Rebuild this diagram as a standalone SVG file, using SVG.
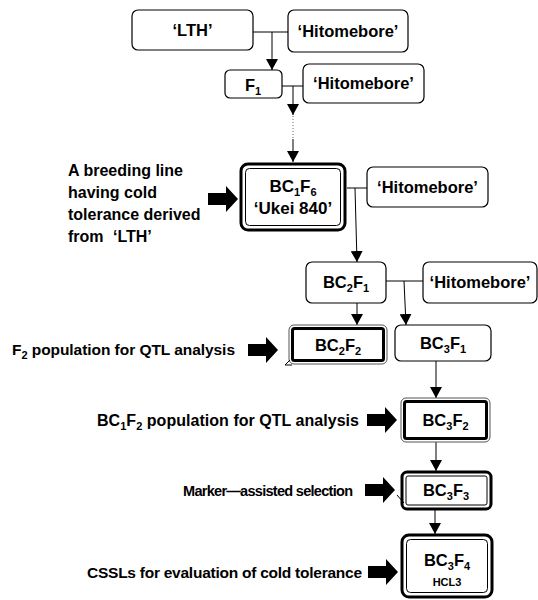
<svg xmlns="http://www.w3.org/2000/svg" xmlns:xlink="http://www.w3.org/1999/xlink" width="538" height="600" viewBox="0 0 538 600">
<style>
text{font-family:"Liberation Sans",Arial,sans-serif;font-weight:bold;fill:#000}
.n{font-size:16.5px;text-anchor:middle}
.l{font-size:15.5px}
.sub{font-size:11px}
.box{fill:#fff;stroke:#000;stroke-width:1.2}
.outer{fill:#fff;stroke:#000;stroke-width:3}
.inner{fill:none;stroke:#000;stroke-width:1}
.thin{fill:#fff;stroke:#555;stroke-width:1}
.thick{fill:none;stroke:#000;stroke-width:3}
.c{fill:none;stroke:#000;stroke-width:1}
.dot{stroke-dasharray:1 2;stroke:#666}
</style>
<defs>
<marker id="ah" markerUnits="userSpaceOnUse" markerWidth="11" markerHeight="12" refX="11" refY="6" orient="auto">
<path d="M0,0 L11,6 L0,12 Z" fill="#000"/>
</marker>
<path id="blk" d="M-30,-6 H-12 V-13 L0,0 L-12,13 V6 H-30 Z" fill="#000"/>
</defs>
<rect width="538" height="600" fill="#fff"/>

<g id="connectors">
<path class="c" d="M253,32 H288"/>
<path class="c" d="M272,32 V70" marker-end="url(#ah)"/>
<path class="c" d="M282,86 H303"/>
<path class="c" d="M293,86 V115" marker-end="url(#ah)"/>
<path class="c dot" d="M293,116 V139"/>
<path class="c" d="M293,139 V162" marker-end="url(#ah)"/>
<path class="c" d="M347,188 H367"/>
<path class="c" d="M355,188 L357,262" marker-end="url(#ah)"/>
<path class="c" d="M386,281 H423"/>
<path class="c" d="M404,281 L406,325" marker-end="url(#ah)"/>
<path class="c" d="M357,303 V325" marker-end="url(#ah)"/>
<path class="c" d="M436,361 V398" marker-end="url(#ah)"/>
<path class="c" d="M436,442 V471" marker-end="url(#ah)"/>
<path class="c" d="M435,509 V534" marker-end="url(#ah)"/>
</g>

<g id="n-lth"><rect class="box" x="132" y="10" width="121" height="40" rx="6"/><text class="n" x="192.5" y="36">‘LTH’</text></g>
<g id="n-hito1"><rect class="box" x="288" y="10" width="120" height="42" rx="6"/><text class="n" x="348" y="37">‘Hitomebore’</text></g>
<g id="n-f1"><rect class="box" x="225" y="70" width="57" height="28" rx="5"/><text class="n" x="253" y="91">F<tspan class="sub" dy="4">1</tspan></text></g>
<g id="n-hito2"><rect class="box" x="303" y="64" width="121" height="39" rx="6"/><text class="n" x="363.5" y="89">‘Hitomebore’</text></g>

<g id="n-bc1f6">
<rect class="outer" x="241" y="164" width="104" height="66" rx="7"/>
<rect class="inner" x="245.5" y="168.5" width="95" height="57" rx="4"/>
<text class="n" x="293" y="192" style="font-size:17px">BC<tspan class="sub" dy="4">1</tspan><tspan dy="-4">F</tspan><tspan class="sub" dy="4">6</tspan></text>
<text class="n" x="293" y="214" style="font-size:17px">‘Ukei 840’</text>
</g>
<g id="n-hito3"><rect class="box" x="367" y="167" width="121" height="40" rx="6"/><text class="n" x="427.5" y="193">‘Hitomebore’</text></g>

<g id="n-bc2f1"><rect class="box" x="306" y="262" width="80" height="41" rx="6"/><text class="n" x="346" y="288">BC<tspan class="sub" dy="4">2</tspan><tspan dy="-4">F</tspan><tspan class="sub" dy="4">1</tspan></text></g>
<g id="n-hito4"><rect class="box" x="423" y="262" width="114" height="41" rx="6"/><text class="n" x="480" y="288">‘Hitomebore’</text></g>

<g id="n-bc2f2">
<rect class="thin" x="289" y="325" width="98" height="39" rx="5"/>
<rect class="thick" x="292.5" y="328.5" width="91" height="32" rx="2"/>
<text class="n" x="338" y="351">BC<tspan class="sub" dy="4">2</tspan><tspan dy="-4">F</tspan><tspan class="sub" dy="4">2</tspan></text>
<path class="c" d="M290,360 L285,365 H292" stroke="#444"/>
</g>
<g id="n-bc3f1"><rect class="box" x="395" y="325" width="96" height="36" rx="6"/><text class="n" x="443" y="349">BC<tspan class="sub" dy="4">3</tspan><tspan dy="-4">F</tspan><tspan class="sub" dy="4">1</tspan></text></g>

<g id="n-bc3f2">
<rect class="thin" x="401" y="398" width="89" height="44" rx="5"/>
<rect class="thick" x="404.5" y="401.5" width="82" height="37" rx="2"/>
<text class="n" x="445.5" y="426">BC<tspan class="sub" dy="4">3</tspan><tspan dy="-4">F</tspan><tspan class="sub" dy="4">2</tspan></text>
</g>

<g id="n-bc3f3">
<rect class="outer" x="402" y="472" width="89" height="37" rx="5"/>
<rect class="inner" x="406" y="476" width="81" height="29" rx="2"/>
<text class="n" x="446" y="496">BC<tspan class="sub" dy="4">3</tspan><tspan dy="-4">F</tspan><tspan class="sub" dy="4">3</tspan></text>
<path class="c" d="M397,495 L404,503" stroke="#444"/>
</g>

<g id="n-bc3f4">
<rect class="outer" x="402" y="535" width="90" height="62" rx="7"/>
<rect class="inner" x="406.5" y="539.5" width="81" height="53" rx="4"/>
<text class="n" x="447" y="566">BC<tspan class="sub" dy="4">3</tspan><tspan dy="-4">F</tspan><tspan class="sub" dy="4">4</tspan></text>
<text class="n" x="447" y="586" style="font-size:11px">HCL3</text>
</g>

<g id="label-breeding">
<text style="font-size:16px" x="68" y="176">A breeding line</text>
<text style="font-size:16px" x="68" y="198">having cold</text>
<text style="font-size:16px" x="68" y="220">tolerance derived</text>
<text style="font-size:16px" x="68" y="242">from <tspan dx="5">‘LTH’</tspan></text>
<use xlink:href="#blk" x="238" y="199"/>
</g>
<g id="label-f2">
<text class="l" x="12" y="355" textLength="223" lengthAdjust="spacing">F<tspan class="sub" dy="4">2</tspan><tspan dy="-4"> population for QTL analysis</tspan></text>
<use xlink:href="#blk" x="278" y="350"/>
</g>
<g id="label-bc1f2">
<text class="l" x="97" y="426" style="font-size:16px" textLength="262" lengthAdjust="spacing">BC<tspan class="sub" dy="4">1</tspan><tspan dy="-4">F</tspan><tspan class="sub" dy="4">2</tspan><tspan dy="-4"> population for QTL analysis</tspan></text>
<use xlink:href="#blk" x="397" y="420"/>
</g>
<g id="label-mas">
<text class="l" x="183" y="496" style="font-size:14.5px" textLength="170" lengthAdjust="spacing">Marker—assisted selection</text>
<use xlink:href="#blk" x="395" y="490"/>
</g>
<g id="label-cssl">
<text class="l" x="87" y="578" textLength="275" lengthAdjust="spacing">CSSLs for evaluation of cold tolerance</text>
<use xlink:href="#blk" x="398" y="572"/>
</g>
</svg>
